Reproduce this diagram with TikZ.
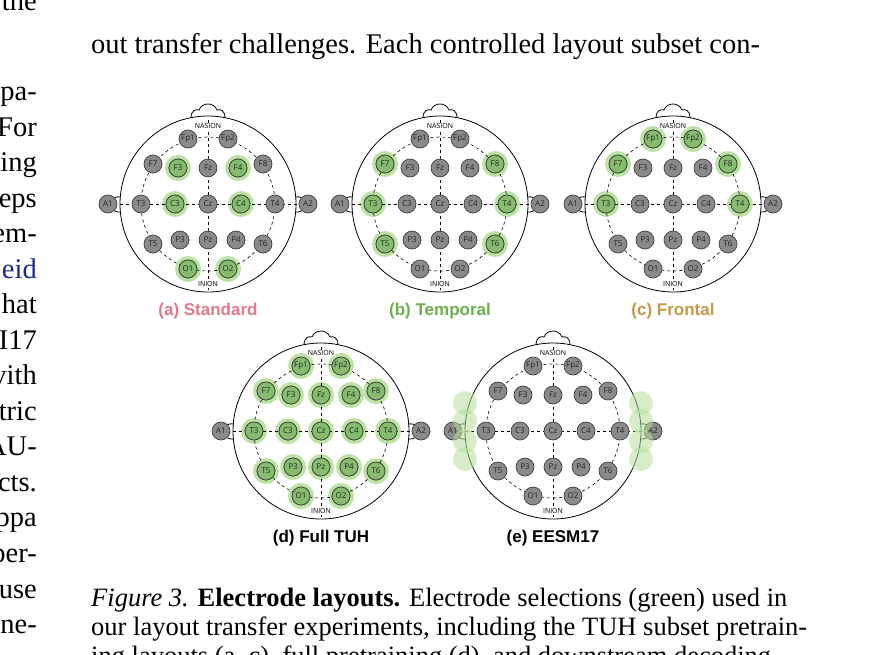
\documentclass[tikz,border=0pt]{standalone}
\usepackage{fontspec}
\setmainfont{Liberation Serif}
\newfontfamily\elecfont{Open Sans}
\newfontfamily\capfont{Liberation Sans}
\definecolor{selgreen}{HTML}{86BC6E}
\definecolor{glowgreen}{HTML}{B5E09A}
\definecolor{elecgray}{HTML}{8A8A8A}
\definecolor{stdpink}{HTML}{E07A8C}
\definecolor{tmpgreen}{HTML}{6FB04E}
\definecolor{frogold}{HTML}{C49A45}
\definecolor{citeblue}{HTML}{1A2A80}
\tikzset{
  elec/.style={circle,draw=black!75,fill=elecgray,line width=0.7pt,minimum size=18pt,inner sep=0pt,font=\elecfont\fontsize{8}{8}\selectfont,text=black!85},
  sel/.style={fill=selgreen},
  glow/.style={fill=glowgreen,opacity=0.9},
  blob/.style={fill=glowgreen,opacity=0.55},
  body/.style={font=\fontsize{28.5}{28.5}\selectfont,inner sep=0pt},
  capt/.style={font=\fontsize{26.5}{26.5}\selectfont,inner sep=0pt,anchor=base west}
}
% one head: x, y, selected electrodes, label, label colour
\newcommand\eeghead[5]{%
  \begin{scope}[shift={(#1,#2)}]
    \foreach \n/\px/\py in {Fp1/-20/-65,Fp2/20/-65,F7/-55/-40,F3/-30/-36,Fz/0/-36,F4/30/-36,F8/55/-40,
      A1/-100/0,T3/-67/0,C3/-33/0,Cz/0/0,C4/33/0,T4/67/0,A2/100/0,
      T5/-55/40,P3/-28/36,Pz/0/36,P4/28/36,T6/55/40,O1/-20/65,O2/20/65}
      \coordinate (\n) at (\px,\py);
    % glow under selected electrodes
    \foreach \n in {#3} \fill[glow] (\n) circle[radius=13];
    % head, nose, ears
    \draw[line width=0.8pt] (0,0) circle[radius=88];
    \draw[line width=0.8pt] (-17,-86) .. controls (-17,-94) and (-12,-95) .. (-9,-94)
      .. controls (-6,-102) and (6,-102) .. (9,-94) .. controls (12,-95) and (17,-94) .. (17,-86);
    \draw[line width=0.8pt] (-87,-7) .. controls (-102,-9) and (-102,9) .. (-87,8);
    \draw[line width=0.8pt] (87,-7) .. controls (102,-9) and (102,9) .. (87,8);
    % dashed guides
    \draw[dashed,line width=0.6pt] (0,0) circle[radius=67];
    \draw[dashed,line width=0.6pt] (A1) -- (A2);
    \draw[dashed,line width=0.6pt] (0,-84) -- (0,86);
    \node[fill=white,inner sep=0.5pt,font=\elecfont\fontsize{7}{7}\selectfont] (nasion) at (0,-78) {NASION};
    \node[fill=white,inner sep=0.5pt,font=\elecfont\fontsize{7}{7}\selectfont] (inion) at (0,80) {INION};
    % electrodes
    \foreach \n in {Fp1,Fp2,F7,F3,Fz,F4,F8,A1,T3,C3,Cz,C4,T4,A2,T5,P3,Pz,P4,T6,O1,O2}
      \node[elec] (e\n) at (\n) {\n};
    \foreach \n in {#3} \node[elec,sel] at (\n) {\n};
    \node[font=\capfont\bfseries\fontsize{17}{17}\selectfont,text=#5] (lbl) at (0,107) {#4};
  \end{scope}}
\begin{document}
\begin{tikzpicture}[x=1pt,y=-1pt]
  \useasboundingbox (0,0) rectangle (883,654);
  \fill[white] (0,0) rectangle (883,654);

  % running text
  \node[body,anchor=base west] (top) at (91,53) {out transfer challenges. Each controlled layout subset con-};
  \foreach \w/\yy in {the/10,rpa-/100,For/136,ing/171,eps/207,em-/242,{\textcolor{citeblue}{eid}}/278,hat/313,
    I17/349,vith/384,tric/420,AU-/455,cts./491,ppa/526,per-/562,use/598,one-/633}
    \node[body,anchor=base east] at (37,\yy) {\w};

  % heads
  \eeghead{208}{204}{F3,F4,C3,C4,O1,O2}{(a) Standard}{stdpink}
  \eeghead{440}{204}{F7,F8,T3,T4,T5,T6}{(b) Temporal}{tmpgreen}
  \eeghead{673}{204}{Fp1,Fp2,F7,F8,T3,T4}{(c) Frontal}{frogold}
  \eeghead{321}{431}{Fp1,Fp2,F7,F3,Fz,F4,F8,T3,C3,Cz,C4,T4,T5,P3,Pz,P4,T6,O1,O2}{(d) Full TUH}{black}
  \eeghead{553}{431}{}{(e) EESM17}{black}
  % ear-EEG blobs
  \foreach \dy in {-28,-10,10,28} {
    \fill[blob] (465,431+\dy) circle[radius=12];
    \fill[blob] (641,431+\dy) circle[radius=12];
  }

  % caption
  \node[capt] (cap1) at (91,606) {\textit{Figure 3.} \textbf{Electrode layouts.} Electrode selections (green) used in};
  \node[capt] (cap2) at (91,635) {our layout transfer experiments, including the TUH subset pretrain-};
  \node[capt] (cap3) at (91,664) {ing layouts (a--c), full pretraining (d), and downstream decoding};
\end{tikzpicture}
\end{document}
